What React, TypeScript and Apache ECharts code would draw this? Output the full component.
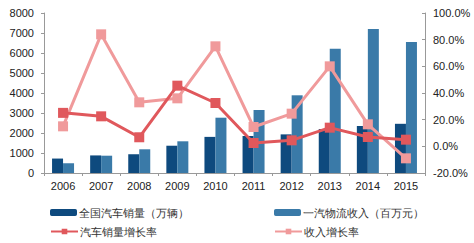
import React, { useEffect, useRef } from "react";
import * as echarts from "echarts";

const years = ["2006", "2007", "2008", "2009", "2010", "2011", "2012", "2013", "2014", "2015"];
const carSales = [722, 879, 938, 1364, 1806, 1851, 1931, 2198, 2349, 2460];
const logisticsRevenue = [485, 865, 1185, 1585, 2765, 3150, 3885, 6215, 7200, 6550];
const carSalesGrowth = [25.1, 22.5, 6.8, 45.5, 32.5, 2.5, 4.5, 14.0, 7.0, 5.0];
const revenueGrowth = [15.0, 84.0, 33.0, 36.0, 75.0, 14.5, 24.5, 60.0, 16.5, -9.0];

const names = ["全国汽车销量（万辆）", "一汽物流收入（百万元）", "汽车销量增长率", "收入增长率"];

const font = "Liberation Sans, Arial, sans-serif";

export default function App() {
  const ref = useRef<HTMLDivElement>(null);
  useEffect(() => {
    if (!ref.current) return;
    const chart = echarts.init(ref.current, undefined, { renderer: "svg" });
    const legendBase = {
      itemWidth: 27,
      itemHeight: 7,
      itemGap: 2,
      textStyle: { fontSize: 11, color: "#333", fontFamily: font, padding: [0, 0, 0, -3] },
      selectedMode: false,
    };
    chart.setOption({
      animation: false,
      textStyle: { fontFamily: font },
      grid: { left: 44, right: 49, top: 13, bottom: 70, containLabel: false },
      legend: [
        { ...legendBase, data: [names[0]], left: 45, top: 202 },
        { ...legendBase, data: [names[1]], left: 269, top: 202 },
        { ...legendBase, data: [names[2]], left: 45, top: 221 },
        { ...legendBase, data: [names[3]], left: 269, top: 221 },
      ],
      xAxis: {
        type: "category",
        data: years,
        axisLine: { lineStyle: { color: "#999" } },
        axisTick: { show: true, length: 3, lineStyle: { color: "#999" } },
        axisLabel: { color: "#222", fontSize: 11, margin: 7 },
      },
      yAxis: [
        {
          type: "value",
          min: 0,
          max: 8000,
          interval: 1000,
          splitLine: { show: false },
          axisLine: { show: true, lineStyle: { color: "#999" } },
          axisTick: { show: true, length: 3, lineStyle: { color: "#999" } },
          axisLabel: { color: "#222", fontSize: 11, margin: 10, formatter: (v: number) => String(v) },
        },
        {
          type: "value",
          min: -20,
          max: 100,
          interval: 20,
          splitLine: { show: false },
          axisLine: { show: true, lineStyle: { color: "#999" } },
          axisTick: { show: true, length: 3, inside: true, lineStyle: { color: "#999" } },
          axisLabel: { color: "#222", fontSize: 11, margin: 8, formatter: (v: number) => v.toFixed(1) + "%" },
        },
      ],
      series: [
        {
          name: names[0],
          type: "bar",
          data: carSales,
          barWidth: 11,
          barGap: "0%",
          itemStyle: { color: "#0e4a7e" },
        },
        {
          name: names[1],
          type: "bar",
          data: logisticsRevenue,
          barWidth: 11,
          barGap: "0%",
          itemStyle: { color: "#3a7aa8" },
        },
        {
          name: names[3],
          type: "line",
          yAxisIndex: 1,
          data: revenueGrowth,
          symbol: "rect",
          symbolSize: 10,
          lineStyle: { color: "#f09a9b", width: 3 },
          itemStyle: { color: "#f09a9b" },
        },
        {
          name: names[2],
          type: "line",
          yAxisIndex: 1,
          data: carSalesGrowth,
          symbol: "rect",
          symbolSize: 10,
          lineStyle: { color: "#e0585c", width: 3 },
          itemStyle: { color: "#e0585c" },
        },
      ],
    });
    return () => chart.dispose();
  }, []);
  return <div ref={ref} style={{ width: 474, height: 243, position: "absolute", left: 0, top: 0 }} />;
}
